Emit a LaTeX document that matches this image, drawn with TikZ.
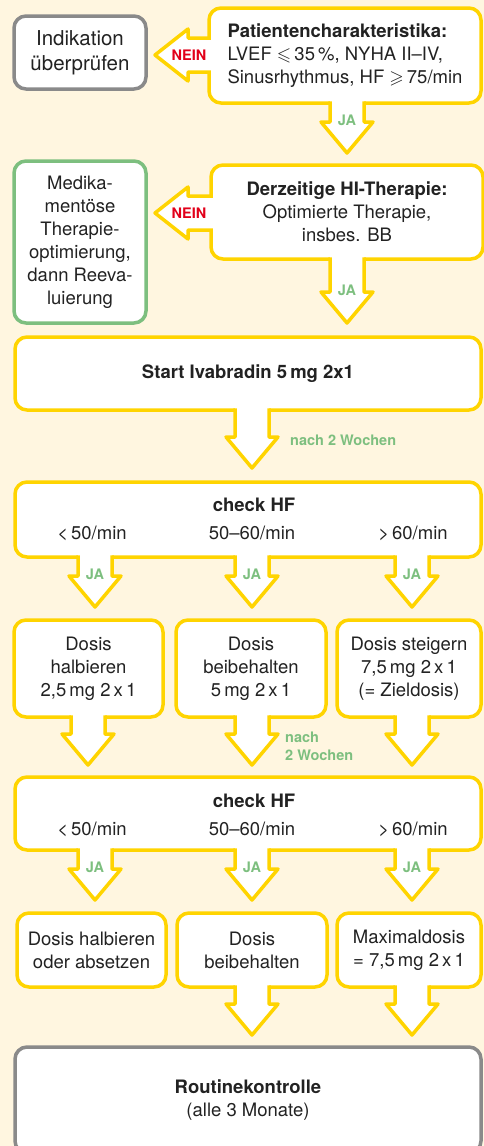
\documentclass[tikz,border=0pt]{standalone}
\usepackage{amssymb}
\usepackage{fontspec}
\setmainfont{TeX Gyre Heros}
\usetikzlibrary{calc}

\definecolor{creme}{HTML}{FFF6E0}
\definecolor{gelb}{HTML}{FFD400}
\definecolor{grau}{HTML}{8A8A8A}
\definecolor{gruen}{HTML}{7DBF7F}
\definecolor{rot}{HTML}{E2001A}
\definecolor{schrift}{HTML}{222222}

% Pfeil nach unten: aus Knoten #1 bis Spitze #2
\newcommand{\pfeilrunter}[2]{%
	\fill[white] ($(#2 |- #1.south)+(-17,-3)$) -- ($(#2)+(-17,-31)$) -- ($(#2)+(-26,-31)$)
		-- (#2) -- ($(#2)+(26,-31)$) -- ($(#2)+(17,-31)$) -- ($(#2 |- #1.south)+(17,-3)$) -- cycle;
	\draw[pfeil] ($(#2 |- #1.south)+(-17,-1.75)$) -- ($(#2)+(-17,-31)$) -- ($(#2)+(-26,-31)$)
		-- (#2) -- ($(#2)+(26,-31)$) -- ($(#2)+(17,-31)$) -- ($(#2 |- #1.south)+(17,-1.75)$);
}
% Pfeil nach links: aus Knoten #1 bis Spitze #2
\newcommand{\pfeillinks}[2]{%
	\fill[white] ($(#2 -| #1.west)+(3,-17)$) -- ($(#2)+(33,-17)$) -- ($(#2)+(33,-26)$)
		-- (#2) -- ($(#2)+(33,26)$) -- ($(#2)+(33,17)$) -- ($(#2 -| #1.west)+(3,17)$) -- cycle;
	\draw[pfeil] ($(#2 -| #1.west)+(1.75,-17)$) -- ($(#2)+(33,-17)$) -- ($(#2)+(33,-26)$)
		-- (#2) -- ($(#2)+(33,26)$) -- ($(#2)+(33,17)$) -- ($(#2 -| #1.west)+(1.75,17)$);
}

\begin{document}
\begin{tikzpicture}[x=1pt, y=-1pt, line join=round,
		every node/.style={font=\fontsize{18.5}{23}\selectfont},
		box/.style={draw=gelb, line width=3.5pt, fill=white, rounded corners=12pt, outer sep=0pt, inner sep=0pt, text=schrift, align=center},
		graubox/.style={box, draw=grau},
		gruenbox/.style={box, draw=gruen},
		pfeil/.style={draw=gelb, line width=3.5pt},
		txt/.style={text=schrift, inner sep=0pt, align=center},
		ja/.style={text=gruen, inner sep=0pt, align=left, font=\fontsize{14.5}{18}\bfseries},
		nein/.style={text=rot, inner sep=0pt, font=\fontsize{14.5}{18}\bfseries}]
	% Hintergrund
	\path[fill=creme, use as bounding box] (0,0) rectangle (484,1146);
	\clip (0,0) rectangle (484,1146);

	% Kaesten
	\node[graubox, minimum width=132pt, minimum height=73pt, font=\fontsize{20.5}{25}\selectfont] (indik) at (80,52.5) {Indikation\\überprüfen};
	\node[box, minimum width=272pt, minimum height=95pt, align=left] (patient) at (345,55.5)
		{\textbf{Patientencharakteristika:}\\LVEF $\leqslant$\,35\,\%, NYHA II–IV,\\Sinusrhythmus, HF $\geqslant$\,75/min};
	\node[gruenbox, minimum width=132pt, minimum height=162pt] (medik) at (80,242)
		{Medika-\\mentöse\\Therapie-\\optimierung,\\dann Reeva-\\luierung};
	\node[box, minimum width=272pt, minimum height=94pt] (therapie) at (347,212)
		{\textbf{Derzeitige HI-Therapie:}\\Optimierte Therapie,\\insbes. BB};
	\node[box, minimum width=466pt, minimum height=73pt] (start) at (248,373.5) {\textbf{Start Ivabradin 5\,mg 2x1}};

	\node[box, minimum width=466pt, minimum height=75pt] (check1) at (248,519.5) {};
	\node[box, minimum width=466pt, minimum height=73pt] (check2) at (248,813.5) {};
	\node[txt, font=\fontsize{18.5}{23}\bfseries] (check1t) at (254,505) {check HF};
	\node[txt, font=\fontsize{18.5}{23}\bfseries] (check2t) at (254,801) {check HF};
	\foreach \n/\x/\t in {a/92/{<\,50/min}, b/252/{50–60/min}, c/413/{>\,60/min}} {
		\node[txt] (wert1\n) at (\x,533) {\t};
		\node[txt] (wert2\n) at (\x,829) {\t};
	}

	\foreach \n/\x/\w/\t in {a/88.5/149/{Dosis\\halbieren\\2,5\,mg 2\,x\,1},
			b/251/150/{Dosis\\beibehalten\\5\,mg 2\,x\,1},
			c/409/144/{Dosis steigern\\7,5\,mg 2\,x\,1\\(= Zieldosis)}}
		\node[box, minimum width=\w pt, minimum height=97pt] (dos\n) at (\x,668.5) {\t};

	\foreach \n/\x/\w/\t in {a/91.5/149/{Dosis halbieren\\oder absetzen},
			b/252/150/{Dosis\\beibehalten},
			c/409/144/{Maximaldosis\\= 7,5\,mg 2\,x\,1}}
		\node[box, minimum width=\w pt, minimum height=74pt] (end\n) at (\x,950) {\t};

	\node[graubox, minimum width=466pt, minimum height=106pt] (routine) at (248,1100)
		{\textbf{Routinekontrolle}\\(alle 3 Monate)};

	% Pfeile
	\coordinate (l1) at (155,55);
	\coordinate (l2) at (155,213);
	\coordinate (s1) at (347,153);
	\coordinate (s2) at (347,323);
	\coordinate (s3) at (252,468);
	\pfeillinks{patient}{l1}
	\pfeillinks{therapie}{l2}
	\pfeilrunter{patient}{s1}
	\pfeilrunter{therapie}{s2}
	\pfeilrunter{start}{s3}
	\node[nein] (nein1) at ($(l1)+(34,0)$) {NEIN};
	\node[nein] (nein2) at ($(l2)+(34,0)$) {NEIN};
	\node[ja] (ja1) at ($(s1)+(0,-33)$) {JA};
	\node[ja] (ja2) at ($(s2)+(0,-33)$) {JA};
	\node[ja, anchor=west] (wochen1) at (290,440) {nach 2 Wochen};

	\foreach \n/\x/\y in {a/95/88, b/252/252, c/412/412} {
		\coordinate (k1\n) at (\x,607);
		\coordinate (k2\n) at (\y,765);
		\coordinate (k3\n) at (\x,900);
		\pfeilrunter{check1}{k1\n}
		\pfeilrunter{dos\n}{k2\n}
		\pfeilrunter{check2}{k3\n}
		\node[ja] (ja1\n) at ($(k1\n)+(0,-33)$) {JA};
		\node[ja] (ja3\n) at ($(k3\n)+(0,-33)$) {JA};
	}
	\node[ja, anchor=west] (wochen2) at (285,746) {nach\\2 Wochen};

	\foreach \n/\x in {b/252, c/412} {
		\coordinate (k4\n) at (\x,1035);
		\pfeilrunter{end\n}{k4\n}
	}
\end{tikzpicture}
\end{document}
